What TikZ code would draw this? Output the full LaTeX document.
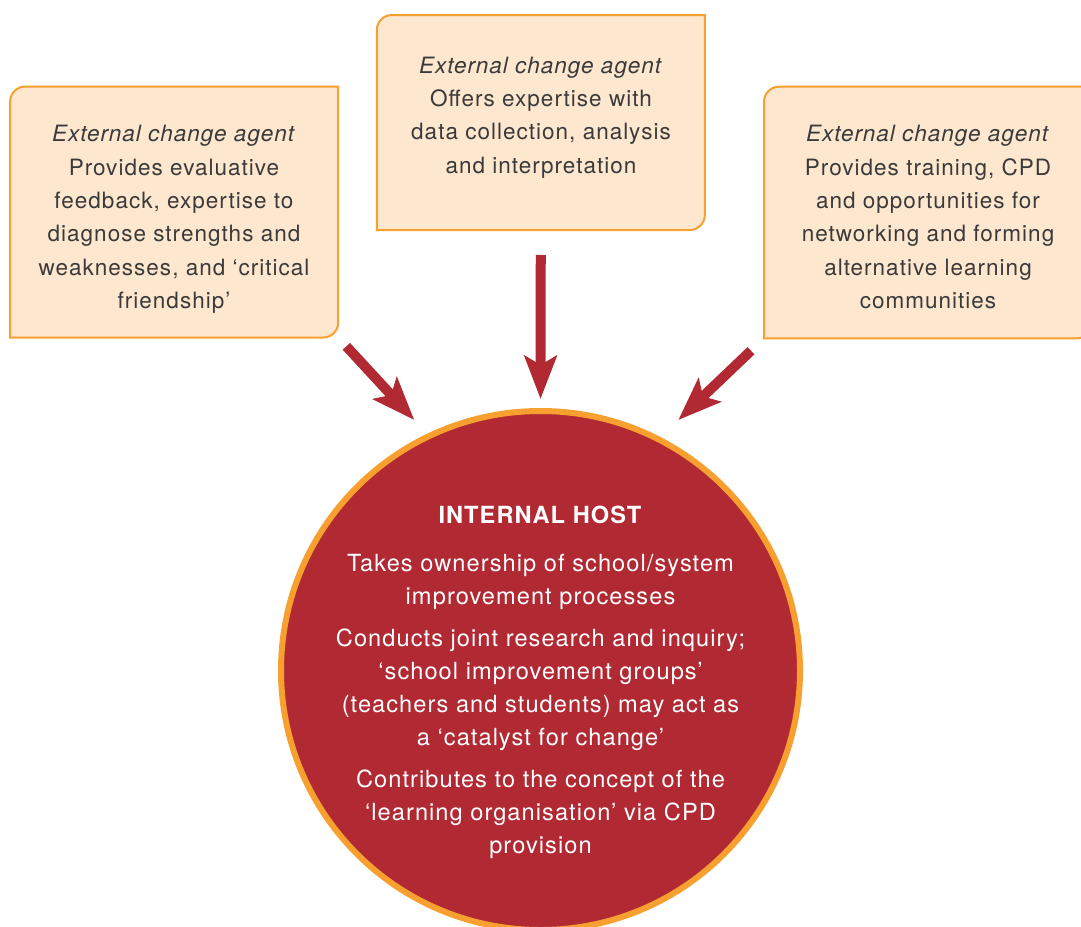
\documentclass[tikz,border=0pt]{standalone}
\usepackage{fontspec}
\setmainfont{TeX Gyre Heros}[LetterSpace=4.5]
\usetikzlibrary{arrows.meta,backgrounds,positioning}
\definecolor{hostred}{HTML}{B12A33}
\definecolor{rim}{HTML}{F7A030}
\definecolor{peach}{HTML}{FDE7CF}
\definecolor{ink}{HTML}{3A3A3A}

\begin{document}
\begin{tikzpicture}[x=1pt,y=1pt,
  agentbox/.style={minimum width=328pt,minimum height=#1,inner sep=0pt,outer sep=0pt},
  boxedge/.style={draw=rim,line width=2pt,fill=peach},
  agenttext/.style={anchor=base,align=center,text=ink,font=\fontsize{22.5}{33.3}\selectfont},
  host/.style={circle,draw=rim,line width=6pt,fill=hostred,minimum size=519pt,inner sep=0pt},
  hosttext/.style={anchor=base,align=center,text=white,font=\fontsize{23.6}{33}\selectfont},
  bigarr/.style={draw=hostred,line width=10pt,-{Stealth[length=43pt,width=32pt,inset=9pt]}}]
  \useasboundingbox (0,0) rectangle (1081,-926);
  % the three agent boxes
  \node[agentbox=251pt] (lbox) at (174.2,-212) {};
  \node[agentbox=215pt] (mbox) at (540.8,-122.5) {};
  \node[agentbox=251.6pt] (rbox) at (928,-212.5) {};
  \begin{scope}[on background layer]
    \foreach \b in {lbox,mbox,rbox}
      \draw[boxedge] (\b.west) [rounded corners=15pt] -- (\b.north west) -- (\b.north)
        [sharp corners] -- (\b.north east) -- (\b.east)
        [rounded corners=15pt] -- (\b.south east) -- (\b.south)
        [sharp corners] -- (\b.south west) -- cycle;
  \end{scope}
  % base of a multi-line node is its last line
  \node[agenttext] (ltext) at (174,-308.3) {\textit{External change agent}\\Provides evaluative\\feedback, expertise to\\diagnose strengths and\\weaknesses, and ‘critical\\friendship’};
  \node[agenttext] (mtext) at (541,-173) {\textit{External change agent}\\Offers expertise with\\data collection, analysis\\and interpretation};
  \node[agenttext] (rtext) at (928,-308.3) {\textit{External change agent}\\Provides training, CPD\\and opportunities for\\networking and forming\\alternative learning\\communities};
  % internal host
  \node[host] (host) at (540.5,-670.5) {};
  \node[hosttext] (htext) at (540.5,-853.3) {\textbf{INTERNAL HOST}\\[15pt]Takes ownership of school/system\\improvement processes\\[9pt]Conducts joint research and inquiry;\\‘school improvement groups’\\(teachers and students) may act as\\a ‘catalyst for change’\\[9pt]Contributes to the concept of the\\‘learning organisation’ via CPD\\provision};
  % arrows into the host
  \coordinate (ltip) at (414.3,-420);
  \coordinate (rtip) at (678.3,-420);
  \draw[bigarr,shorten <=12pt] (lbox.south east) -- (ltip);
  \draw[bigarr,shorten <=25pt,shorten >=9pt] (mbox.south) -- (host.north);
  \draw[bigarr,shorten <=18pt] (rbox.south west) -- (rtip);
\end{tikzpicture}
\end{document}
